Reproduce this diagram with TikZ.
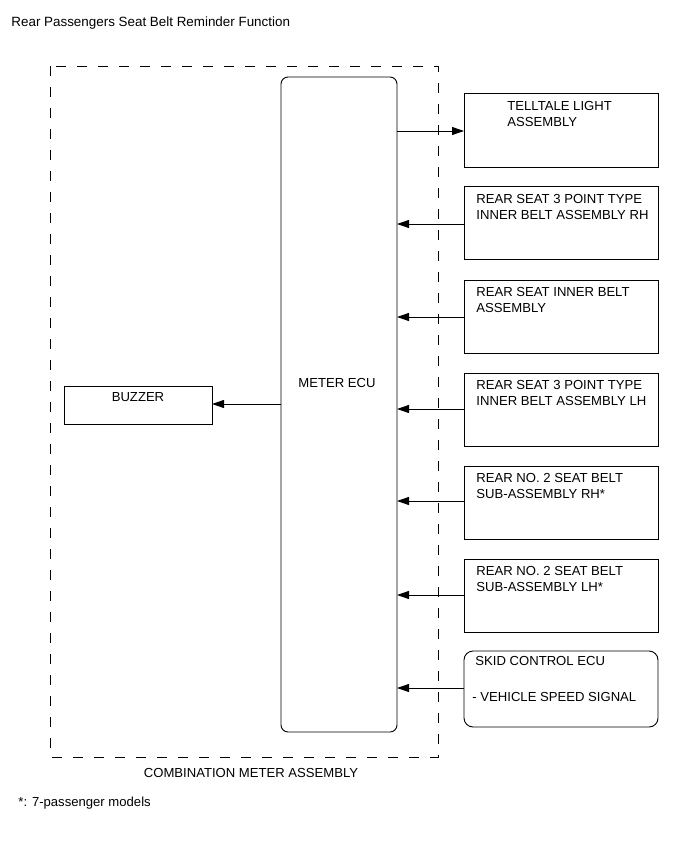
\documentclass[tikz,border=0pt]{standalone}
\usepackage{fontspec}
\setmainfont{Liberation Sans}
\usetikzlibrary{arrows.meta}
\begin{document}
\begin{tikzpicture}[x=1pt,y=-1pt,
  line width=0.9pt,
  txt/.style={inner sep=0pt,anchor=base west,font=\fontsize{13.1}{16}\selectfont},
  ctxt/.style={inner sep=0pt,anchor=base,font=\fontsize{13.1}{16}\selectfont},
  conn/.style={-{Triangle[length=12pt,width=8pt]}},
  dashbox/.style={dash pattern=on 10pt off 11pt}
]
\useasboundingbox (0,0) rectangle (690,853);
% title
\node[txt,font=\fontsize{13.4}{16}\selectfont] (title) at (11,27) {Rear Passengers Seat Belt Reminder Function};
% combination meter assembly dashed box
\draw[dashbox] (50,66) rectangle (438,757);
\node[ctxt] (cma) at (251,777) {COMBINATION METER ASSEMBLY};
\node[txt] (note) at (18,806) {*: 7-passenger models};
% meter ECU
\draw[rounded corners=7pt] (281,77) rectangle (397,732);
\coordinate (ecuL) at (281,0);
\coordinate (ecuR) at (397,0);
\node[ctxt] (ecu) at (337,387) {METER ECU};
% buzzer
\draw (64,386) rectangle (212,424);
\coordinate (buzR) at (212,0);
\node[ctxt] (buz) at (138,401) {BUZZER};
\draw[conn] (ecuL |- 0,404) coordinate (bz1) -- (buzR |- bz1);
% right boxes
\coordinate (rbL) at (464,0);
\draw (464,93) rectangle (658,167);
\node[txt] (t1a) at (507,111) {TELLTALE LIGHT};
\node[txt] (t1b) at (507,127) {ASSEMBLY};
\draw[conn] (ecuR |- 0,131) coordinate (a1) -- (rbL |- a1);

\draw (464,186) rectangle (658,259);
\node[txt] (t2a) at (476,203) {REAR SEAT 3 POINT TYPE};
\node[txt] (t2b) at (476,219) {INNER BELT ASSEMBLY RH};
\draw[conn] (rbL |- 0,224) coordinate (a2) -- (ecuR |- a2);

\draw (464,280) rectangle (658,353);
\node[txt] (t3a) at (476,296) {REAR SEAT INNER BELT};
\node[txt] (t3b) at (476,312) {ASSEMBLY};
\draw[conn] (rbL |- 0,317) coordinate (a3) -- (ecuR |- a3);

\draw (464,373) rectangle (658,446);
\node[txt] (t4a) at (476,389) {REAR SEAT 3 POINT TYPE};
\node[txt] (t4b) at (476,405) {INNER BELT ASSEMBLY LH};
\draw[conn] (rbL |- 0,409) coordinate (a4) -- (ecuR |- a4);

\draw (464,466) rectangle (658,539);
\node[txt] (t5a) at (476,482) {REAR NO. 2 SEAT BELT};
\node[txt] (t5b) at (476,498) {SUB-ASSEMBLY RH*};
\draw[conn] (rbL |- 0,501) coordinate (a5) -- (ecuR |- a5);

\draw (464,559) rectangle (658,632);
\node[txt] (t6a) at (476,575) {REAR NO. 2 SEAT BELT};
\node[txt] (t6b) at (476,591) {SUB-ASSEMBLY LH*};
\draw[conn] (rbL |- 0,595) coordinate (a6) -- (ecuR |- a6);

\draw[rounded corners=9pt] (464,651) rectangle (658,727);
\node[txt] (t7) at (475,665) {SKID CONTROL ECU};
\node[txt] (t8) at (472,701) {- VEHICLE SPEED SIGNAL};
\draw[conn] (rbL |- 0,688) coordinate (a7) -- (ecuR |- a7);
\end{tikzpicture}
\end{document}
